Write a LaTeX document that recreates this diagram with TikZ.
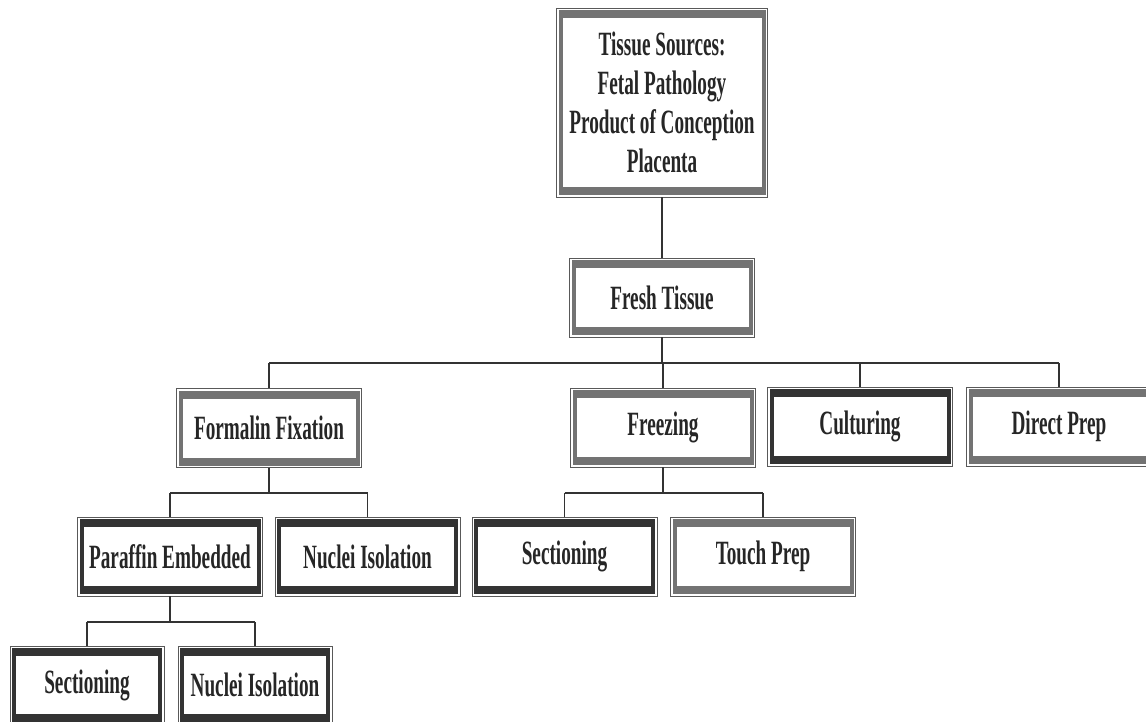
\documentclass[tikz,border=0pt]{standalone}
\usepackage{fontspec}
\newfontfamily\cond{Liberation Serif}[FakeStretch=0.565]
\begin{document}
\begin{tikzpicture}[x=1pt,y=-1pt]
\tikzset{
  fbox/.style={rectangle, inner sep=0pt, fill=white, draw=gray!70!black,
    line width=0.7pt, text=black!85, align=center,
    font=\cond\bfseries\fontsize{34}{39}\selectfont,
    path picture={
      \fill[#1] ([shift={(2pt,2pt)}]path picture bounding box.south west)
        rectangle ([shift={(-2pt,-2pt)}]path picture bounding box.north east);
      \fill[white] ([shift={(6pt,10pt)}]path picture bounding box.south west)
        rectangle ([shift={(-6pt,-10pt)}]path picture bounding box.north east);
    }},
  lbox/.style={fbox=black!55},
  dbox/.style={fbox=black!80},
  bw/.style={minimum width=185pt, minimum height=79pt},
  sw/.style={minimum width=154pt, minimum height=78pt},
  vline/.style={draw=black!80, line width=1.5pt},
  hline/.style={draw=black!80, line width=2.2pt}
}
\useasboundingbox (0,0) rectangle (1146,722);
\fill[white] (0,0) rectangle (1146,722);

\node[lbox, minimum width=211pt, minimum height=189pt] (src) at (662,102.5)
  {Tissue Sources:\\Fetal Pathology\\Product of Conception\\Placenta};
\node[lbox, bw] (fresh) at (662,297.5) {Fresh Tissue};

\node[lbox, bw] (formalin) at (269,428) {Formalin Fixation};
\node[lbox, bw] (freezing) at (663,427.5) {Freezing};
\node[dbox, bw] (culturing) at (860,426.5) {Culturing};
\node[lbox, bw] (direct) at (1059,426.5) {Direct Prep};

\node[dbox, bw] (paraffin) at (170,556.5) {Paraffin Embedded};
\node[dbox, bw] (nuclei1) at (367.5,556.5) {Nuclei Isolation};
\node[dbox, bw] (sect1) at (564.5,556.5) {Sectioning};
\node[lbox, bw] (touch) at (763,556.5) {Touch Prep};

\node[dbox, sw] (sect2) at (87,685) {Sectioning};
\node[dbox, sw] (nuclei2) at (255,685) {Nuclei Isolation};

\coordinate (bus1) at (0,363);
\coordinate (bus2) at (0,493);
\coordinate (bus3) at (0,622);

\draw[vline] (src.south) -- (fresh.north);

\draw[vline] (fresh.south) -- (fresh.south |- bus1);
\draw[hline] (formalin.north |- bus1) -- (direct.north |- bus1);
\foreach \n in {formalin, freezing, culturing, direct}
  \draw[vline] (\n.north |- bus1) -- (\n.north);

\draw[vline] (formalin.south) -- (formalin.south |- bus2);
\draw[hline] (paraffin.north |- bus2) -- (nuclei1.north |- bus2);
\foreach \n in {paraffin, nuclei1}
  \draw[vline] (\n.north |- bus2) -- (\n.north);

\draw[vline] (freezing.south) -- (freezing.south |- bus2);
\draw[hline] (sect1.north |- bus2) -- (touch.north |- bus2);
\foreach \n in {sect1, touch}
  \draw[vline] (\n.north |- bus2) -- (\n.north);

\draw[vline] (paraffin.south) -- (paraffin.south |- bus3);
\draw[hline] (sect2.north |- bus3) -- (nuclei2.north |- bus3);
\foreach \n in {sect2, nuclei2}
  \draw[vline] (\n.north |- bus3) -- (\n.north);
\end{tikzpicture}
\end{document}
